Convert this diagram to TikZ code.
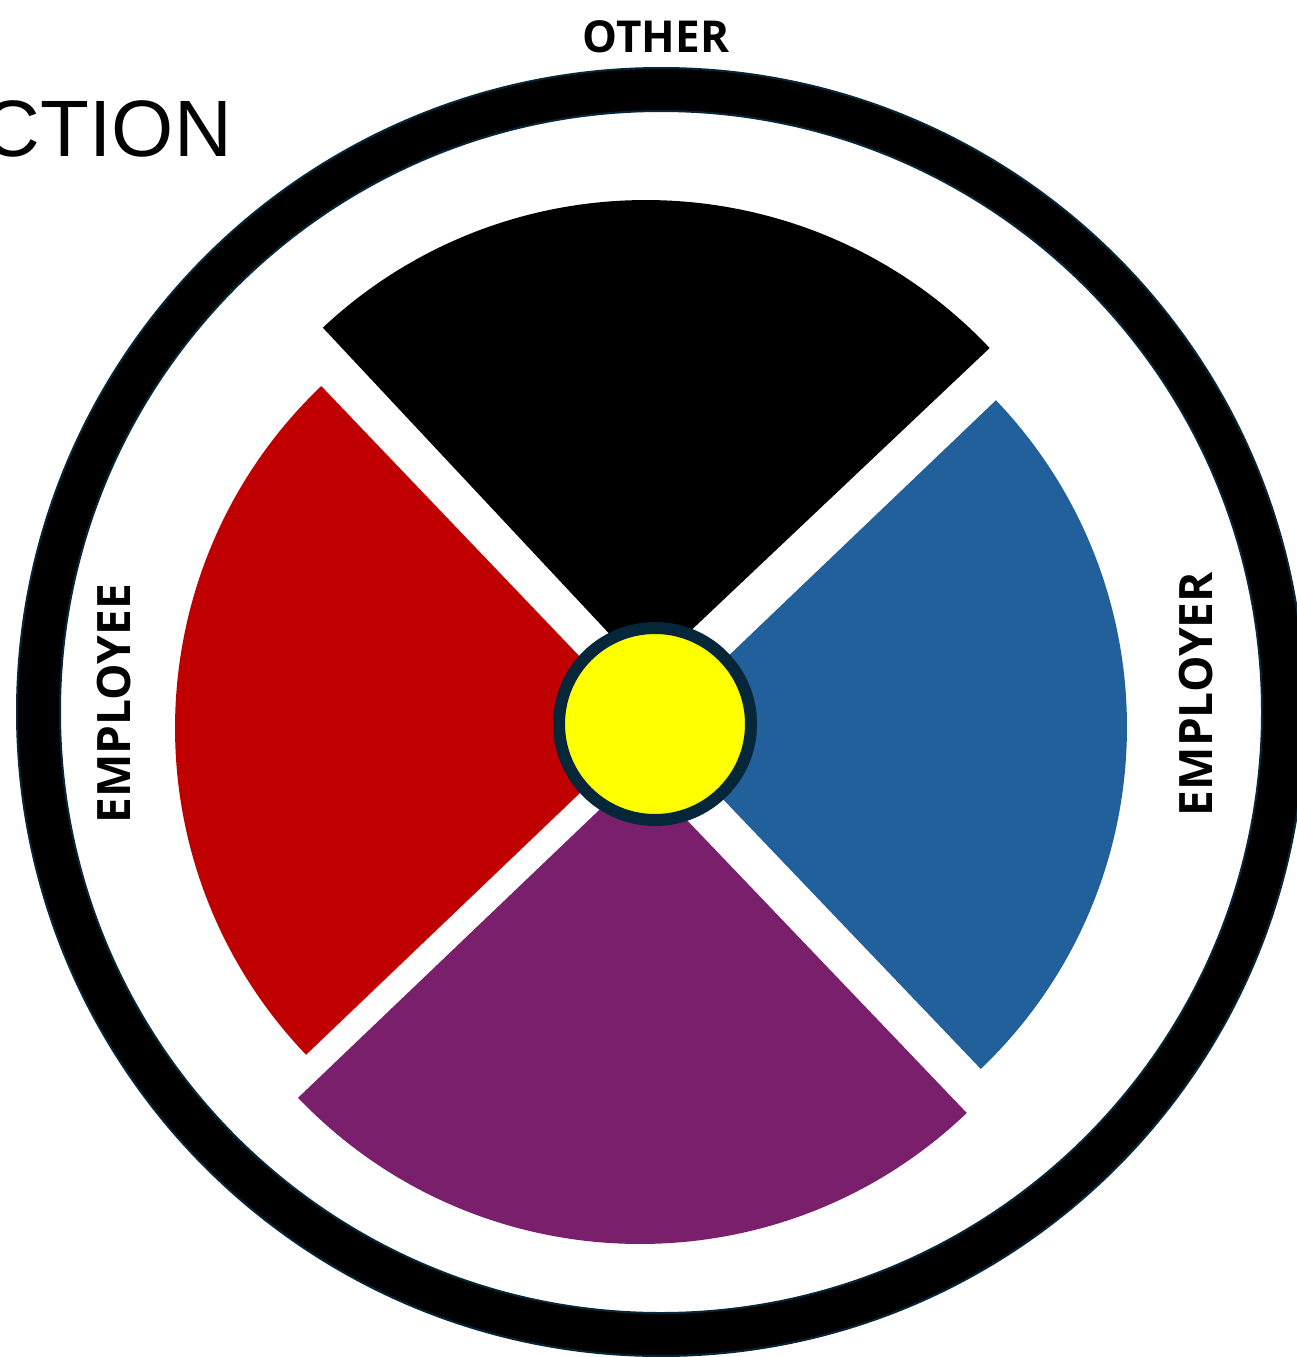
\documentclass[tikz,border=0pt]{standalone}
\usepackage{fontspec}
\newfontfamily\labfont{Open Sans}
\newfontfamily\titlefont{Liberation Sans}
\definecolor{navy}{HTML}{06263A}
\definecolor{secred}{HTML}{C00000}
\definecolor{secblue}{HTML}{22609B}
\definecolor{secpurple}{HTML}{791F6C}
\definecolor{hubyellow}{HTML}{FFFF00}
\tikzset{
  ring/.style={fill=black, draw=navy, line width=2pt, even odd rule},
  sector/.style={draw=none},
  hubnode/.style={circle, fill=hubyellow, draw=navy, line width=12pt, minimum size=192pt, inner sep=0pt},
  toplabel/.style={font=\labfont\bfseries\fontsize{44}{50}\selectfont, inner sep=0pt, anchor=base},
  sidelabel/.style={font=\labfont\bfseries\fontsize{46}{52}\selectfont, inner sep=0pt, anchor=base, rotate=90},
  titletext/.style={font=\titlefont\fontsize{80}{96}\selectfont, inner sep=0pt, anchor=base east}
}
\begin{document}
\begin{tikzpicture}[x=1pt,y=-1pt]
\useasboundingbox (0,0) rectangle (1297,1357);
% outer ring
\coordinate (c) at (661,712);
\path[ring] (c) circle (644) (c) circle (601);
% sector apexes
\coordinate (ak) at (646,673);
\coordinate (ar) at (648,728);
\coordinate (ab) at (654,727);
\coordinate (ap) at (640,771);
% sectors
\path[sector, fill=black] (ak) -- ++(-43.4:473) arc[start angle=-43.4, end angle=-133.1, radius=473] -- cycle;
\path[sector, fill=secred] (ar) -- ++(-133.7:473) arc[start angle=-133.7, end angle=-223.7, radius=473] -- cycle;
\path[sector, fill=secblue] (ab) -- ++(46.3:473) arc[start angle=46.3, end angle=-43.7, radius=473] -- cycle;
\path[sector, fill=secpurple] (ap) -- ++(-223.7:473) arc[start angle=-223.7, end angle=-313.7, radius=473] -- cycle;
% hub
\node[hubnode] (hub) at (655,724) {};
% labels
\node[toplabel] (other) at (656,52) {OTHER};
\node[sidelabel] (employee) at (130,704) {EMPLOYEE};
\node[sidelabel] (employer) at (1212,694) {EMPLOYER};
\node[titletext] (title) at (232,156) {CTION};
\end{tikzpicture}
\end{document}
